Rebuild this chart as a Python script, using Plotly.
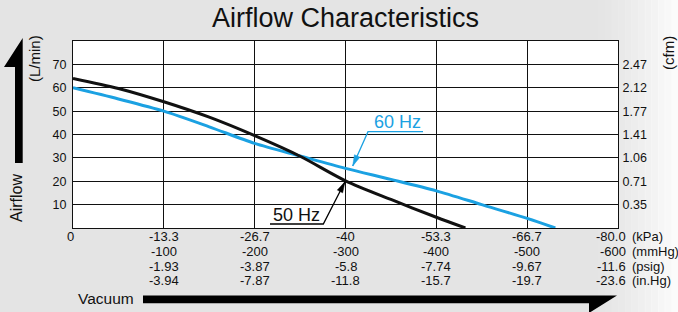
import plotly.graph_objects as go

# ---------------- data ----------------
vacuum_mmHg = [0, 100, 200, 300, 400, 500, 600]
kpa_labels = ["0", "-13.3", "-26.7", "-40", "-53.3", "-66.7", "-80.0"]
mmhg_labels = ["", "-100", "-200", "-300", "-400", "-500", "-600"]
psig_labels = ["", "-1.93", "-3.87", "-5.8", "-7.74", "-9.67", "-11.6"]
inhg_labels = ["", "-3.94", "-7.87", "-11.8", "-15.7", "-19.7", "-23.6"]
unit_labels = ["(kPa)", "(mmHg)", "(psig)", "(in.Hg)"]

lpm_ticks = [10, 20, 30, 40, 50, 60, 70]
cfm_labels = ["0.35", "0.71", "1.06", "1.41", "1.77", "2.12", "2.47"]

x50 = [0, 50, 100, 150, 200, 250, 300, 350, 400, 432]
y50 = [64.0, 59.7, 54.0, 47.4, 39.5, 30.7, 20.2, 12.2, 4.6, 0]
x60 = [0, 50, 100, 150, 200, 250, 300, 350, 400, 450, 500, 531]
y60 = [60.0, 55.2, 50.0, 43.3, 36.2, 30.8, 25.5, 20.8, 15.9, 10.0, 4.1, 0]

# ---------------- layout geometry ----------------
W, H = 678, 312
L, R, T, B = 73, 618, 41, 228
BLUE = "#1ba1e2"
FONT = "Liberation Sans, Arial, Helvetica, sans-serif"
GRID = "#111111"


def px(x):
    return (x - L) / (R - L)


def py(y):
    return (B - y) / (B - T)


def path(points, close=False):
    s = "M " + " L ".join(f"{px(a):.5f},{py(b):.5f}" for a, b in points)
    return s + (" Z" if close else "")


def arrow_head(tail, tip, length=11, half=3):
    dx, dy = tip[0] - tail[0], tip[1] - tail[1]
    n = (dx * dx + dy * dy) ** 0.5
    ux, uy = dx / n, dy / n
    bx, by = tip[0] - length * ux, tip[1] - length * uy
    nx, ny = -uy, ux
    return [tip, (bx + half * nx, by + half * ny), (bx - half * nx, by - half * ny)]


fig = go.Figure()
fig.add_trace(go.Scatter(x=x60, y=y60, mode="lines", name="60 Hz",
                         line=dict(color=BLUE, width=3, shape="spline", smoothing=0.8),
                         hoverinfo="skip", cliponaxis=True))
fig.add_trace(go.Scatter(x=x50, y=y50, mode="lines", name="50 Hz", yaxis="y2",
                         line=dict(color="#111111", width=3, shape="spline", smoothing=0.8),
                         hoverinfo="skip", cliponaxis=True))

shapes = []
# background gradient towards the right edge
n_strips = 14
x0s = 585
for i in range(n_strips):
    a = x0s + (W - x0s) * i / n_strips
    b = x0s + (W - x0s) * (i + 1) / n_strips + 0.5
    t = (i + 0.5) / n_strips
    shapes.append(dict(type="rect", xref="paper", yref="paper",
                       x0=px(a), x1=px(b), y0=py(H + 2), y1=py(-2),
                       fillcolor="white", opacity=0.9 * t ** 1.6,
                       line=dict(width=0), layer="below"))

# big left arrow (Airflow)
shapes.append(dict(type="path", xref="paper", yref="paper",
                   path=path([(22.7, 38), (4, 67), (15, 67), (15, 163), (22.7, 163)], True),
                   fillcolor="black", line=dict(width=0)))
# big bottom arrow (Vacuum)
shapes.append(dict(type="path", xref="paper", yref="paper",
                   path=path([(143, 295.5), (617, 295.5), (589, 313), (589, 303.3), (143, 303.3)], True),
                   fillcolor="black", line=dict(width=0)))

# 60 Hz leader
tail60, tip60 = (368, 131.7), (352.7, 166.0)
shapes.append(dict(type="path", xref="paper", yref="paper",
                   path=path([(423, 131.7), tail60, tip60]),
                   line=dict(color=BLUE, width=1.3)))
shapes.append(dict(type="path", xref="paper", yref="paper",
                   path=path(arrow_head(tail60, tip60), True),
                   fillcolor=BLUE, line=dict(color=BLUE, width=0.5)))
# 50 Hz leader
tail50, tip50 = (323.3, 224), (345, 181.7)
shapes.append(dict(type="path", xref="paper", yref="paper",
                   path=path([(270, 224), tail50, tip50]),
                   line=dict(color="black", width=1.3)))
shapes.append(dict(type="path", xref="paper", yref="paper",
                   path=path(arrow_head(tail50, tip50), True),
                   fillcolor="black", line=dict(color="black", width=0.5)))

annotations = []
# bottom multi-unit tick labels
rows = [kpa_labels, mmhg_labels, psig_labels, inhg_labels]
row_y = [236.7, 251.5, 266.0, 280.8]
for r, labels in enumerate(rows):
    for xv, lab in zip(vacuum_mmHg, labels):
        if not lab:
            continue
        last = xv == vacuum_mmHg[-1]
        annotations.append(dict(x=xv, y=py(row_y[r]), xref="x", yref="paper",
                                text=lab, showarrow=False,
                                xanchor="right" if last else "center", yanchor="middle",
                                xshift=10 if last else (-3 if xv == 0 else 0),
                                font=dict(size=13, color="#111", family=FONT)))
    annotations.append(dict(x=vacuum_mmHg[-1], y=py(row_y[r]), xref="x", yref="paper",
                            text=unit_labels[r], showarrow=False,
                            xanchor="left", yanchor="middle", xshift=12,
                            font=dict(size=13, color="#111", family=FONT)))


def caption(x, y, text, size, color="#111", angle=0):
    return dict(x=px(x), y=py(y), xref="paper", yref="paper", text=text, textangle=angle,
                showarrow=False, xanchor="center", yanchor="middle",
                font=dict(size=size, color=color, family=FONT))


annotations += [
    caption(34, 59, "(L/min)", 15, angle=-90),
    caption(16, 198, "Airflow", 16, angle=-90),
    caption(668, 53, "(cfm)", 15, angle=-90),
    caption(106, 298, "Vacuum", 15.5),
    caption(397, 122, "60 Hz", 18, color=BLUE),
    caption(296, 215, "50 Hz", 18),
]

axis_common = dict(range=[0, 80], tickvals=lpm_ticks, showgrid=True, gridcolor=GRID,
                   gridwidth=1, zeroline=False, ticks="", showline=True,
                   linecolor="#111", linewidth=1, mirror=False,
                   tickfont=dict(size=12.5, color="#111", family=FONT), fixedrange=True)

fig.update_layout(
    width=W, height=H,
    margin=dict(l=L, r=W - R, t=T, b=H - B, pad=0),
    paper_bgcolor="#e4e4e4", plot_bgcolor="white",
    showlegend=False,
    title=dict(text="Airflow Characteristics", x=0.5, xref="paper", xanchor="center",
               y=1 - 18 / H, yref="container", yanchor="middle",
               font=dict(size=27, color="#111", family=FONT)),
    xaxis=dict(range=[0, 600], tickvals=vacuum_mmHg, showticklabels=False, ticks="",
               showgrid=True, gridcolor=GRID, gridwidth=1, zeroline=False,
               showline=True, linecolor="#111", linewidth=1, mirror=True, fixedrange=True),
    yaxis=dict(side="left", ticklabelstandoff=3, **axis_common),
    yaxis2=dict(side="right", overlaying="y", ticktext=cfm_labels, ticklabelstandoff=1,
                **{k: v for k, v in axis_common.items() if k != "showgrid"}, showgrid=False),
    shapes=shapes,
    annotations=annotations,
)

fig.write_html("out.html", config={"displayModeBar": False})

# remove the browser's default body margin so the figure fills the window exactly
with open("out.html", "r", encoding="utf-8") as f:
    html = f.read()
html = html.replace("<head>", "<head><style>html,body{margin:0;padding:0;overflow:hidden;}</style>", 1)
with open("out.html", "w", encoding="utf-8") as f:
    f.write(html)
